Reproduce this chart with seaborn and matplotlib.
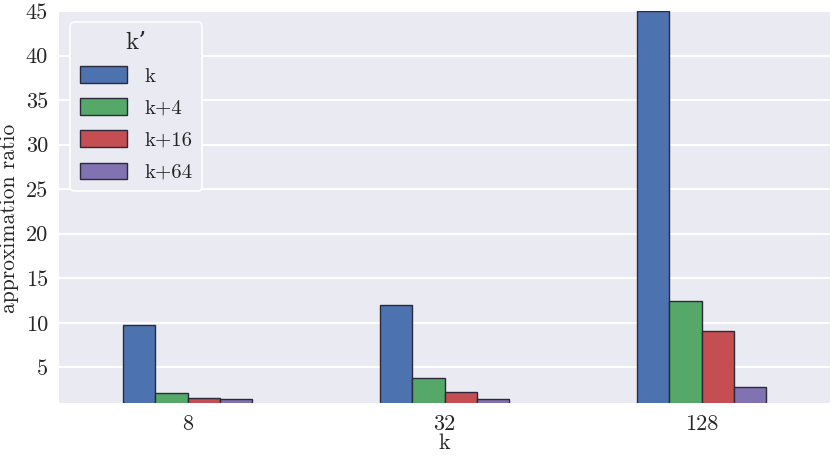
import matplotlib
matplotlib.use("Agg")
import matplotlib.pyplot as plt
import seaborn as sns
import pandas as pd

k_values = ["8", "32", "128"]
series_names = ["k", "k+4", "k+16", "k+64"]
ratio_k = [9.8, 12.0, 45.0]
ratio_k4 = [2.1, 3.8, 12.4]
ratio_k16 = [1.6, 2.2, 9.1]
ratio_k64 = [1.4, 1.5, 2.8]
y_ticks = [5, 10, 15, 20, 25, 30, 35, 40, 45]

rows = []
for name, vals in zip(series_names, [ratio_k, ratio_k4, ratio_k16, ratio_k64]):
    for kv, v in zip(k_values, vals):
        rows.append({"k": kv, "k'": name, "ratio": v})
df = pd.DataFrame(rows)

sns.set_theme(style="darkgrid", rc={"axes.facecolor": "#EAEAF2", "grid.color": "white",
                                    "grid.linewidth": 1.4})
plt.rcParams["font.family"] = ["cmr10", "DejaVu Serif"]
plt.rcParams["axes.formatter.use_mathtext"] = True
plt.rcParams["mathtext.fontset"] = "cm"

colors = ["#4C72B0", "#55A868", "#C44E52", "#8172B2"]

fig = plt.figure(figsize=(8.31, 4.62), dpi=100)
ax = fig.add_axes([59 / 831, 1 - 403 / 462, (830 - 59) / 831, (403 - 11) / 462])
sns.barplot(data=df, x="k", y="ratio", hue="k'", order=k_values, hue_order=series_names,
            palette=colors, width=0.5, edgecolor="#2a2a3a", linewidth=1.0,
            saturation=1, ax=ax, errorbar=None)
ax.set_ylim(1, 45)
ax.set_xlim(-0.5, 2.5)
ax.set_yticks(y_ticks)
ax.set_yticklabels([str(t) for t in y_ticks])
ax.tick_params(axis="both", labelsize=16, colors="#262626", length=0, pad=8)
ax.set_xlabel("k", fontsize=16, labelpad=0, color="#262626")
ax.set_ylabel("approximation ratio", fontsize=15.5, color="#262626")
ax.yaxis.set_label_coords(-0.052, 0.47)
for s in ax.spines.values():
    s.set_visible(False)

leg = ax.legend(title="k\u2019", loc="upper left", fontsize=15, title_fontsize=18,
                frameon=True, facecolor="#EAEAF2", edgecolor="white",
                handlelength=2.25, handleheight=0.85, handletextpad=0.85,
                labelspacing=0.6, borderpad=0.45, borderaxespad=0.55,
                bbox_to_anchor=(0, 1))
leg.get_frame().set_linewidth(1.2)
leg.get_frame().set_alpha(1)

fig.savefig("out.png", dpi=100)
